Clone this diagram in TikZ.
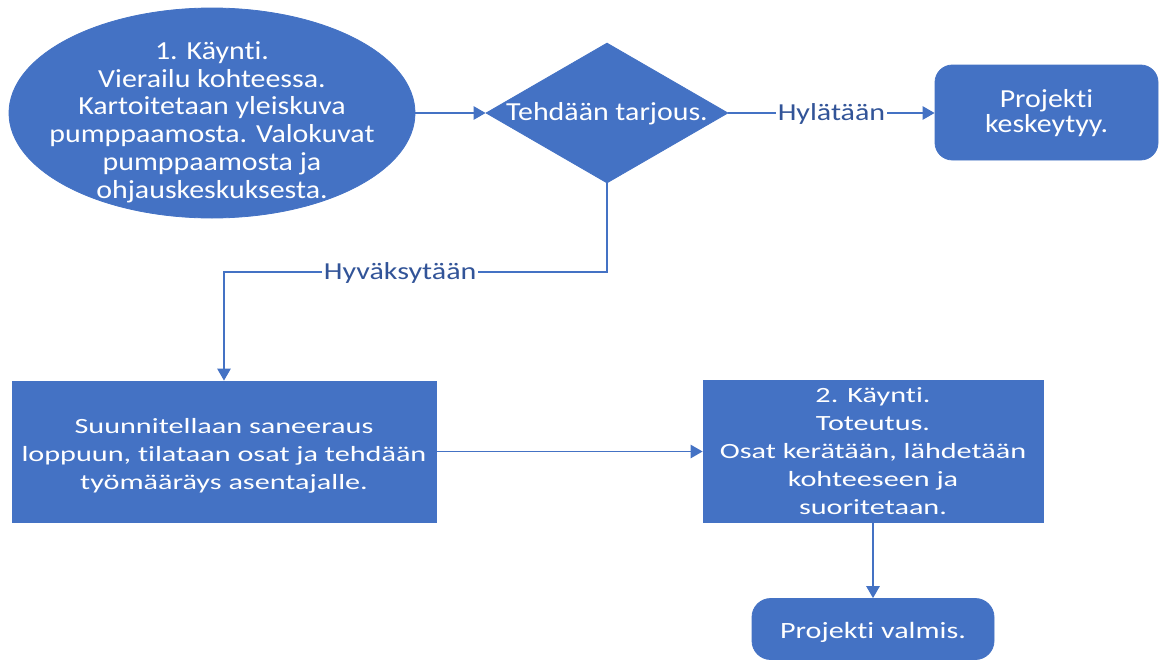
\documentclass[tikz,border=0pt]{standalone}
\usepackage{fontspec}
\setmainfont{Carlito}[Ligatures=NoCommon]
\newfontfamily\topfont{Carlito}[FakeStretch=1.15,Ligatures=NoCommon]
\newfontfamily\botfont{Carlito}[FakeStretch=1.39,Ligatures=NoCommon]
\newfontfamily\valfont{Carlito}[FakeStretch=1.29,Ligatures=NoCommon]
\newfontfamily\lblfont{Carlito}[FakeStretch=1.23,Ligatures=NoCommon]
\usetikzlibrary{shapes.geometric,arrows.meta}
\definecolor{myblue}{HTML}{4472C4}
\definecolor{lblblue}{RGB}{50,84,152}
\newcommand{\tI}{t\kern0pt i}
\tikzset{
  shp/.style={fill=myblue, draw=myblue, line width=0.6pt, inner sep=0pt},
  toptext/.style={text=white, inner sep=0pt, align=center, font=\topfont\fontsize{19.5}{20.8}\selectfont},
  bottext/.style={text=white, inner sep=0pt, align=center, font=\botfont\fontsize{16.3}{21}\selectfont},
  valtext/.style={text=white, inner sep=0pt, align=center, font=\valfont\fontsize{17.5}{21}\selectfont},
  conn/.style={draw=myblue, line width=1.3pt, -{Triangle[length=9pt,width=10pt]}},
  lbl/.style={fill=white, text=lblblue, inner sep=1.2pt, font=\lblfont\fontsize{18.3}{21}\selectfont}
}
\begin{document}
\begin{tikzpicture}[x=0.75pt,y=-0.75pt]
\useasboundingbox (0,0) rectangle (1162,661);
% shapes
\node[shp, ellipse, minimum width=304.5pt, minimum height=157.5pt] (ell) at (212,113) {};
\node[shp, diamond, minimum width=181.5pt, minimum height=105pt] (dia) at (607,113) {};
\node[shp, rectangle, rounded corners=13pt, minimum width=167.25pt, minimum height=71.25pt] (kesk) at (1046.5,112.5) {};
\node[shp, rectangle, minimum width=318pt, minimum height=105.75pt] (box1) at (224,451.5) {};
\node[shp, rectangle, minimum width=255pt, minimum height=106.5pt] (box2) at (873,451) {};
\node[shp, rectangle, rounded corners=14pt, minimum width=181.5pt, minimum height=45.75pt] (valmis) at (873,629) {};
% texts
\node[toptext] (ellt) at (212,122) {1. Käyn\tI.\\Vierailu kohteessa.\\Kartoitetaan yleiskuva\\pumppaamosta. Valokuvat\\pumppaamosta ja\\ohjauskeskuksesta.};
\node[toptext] (diat) at (607,114) {Tehdään tarjous.};
\node[toptext, font=\topfont\fontsize{19.5}{19.3}\selectfont] (keskt) at (1046.5,113) {Projek\tI\\keskeytyy.};
\node[bottext] (box1t) at (224,456) {Suunnitellaan saneeraus\\loppuun, tilataan osat ja tehdään\\työmääräys asentajalle.};
\node[bottext] (box2t) at (873,451.5) {2. Käyn\tI.\\Toteutus.\\Osat kerätään, lähdetään\\kohteeseen ja\\suoritetaan.};
\node[valtext] (valmist) at (873,632) {Projek\tI{} valmis.};
% connectors
\coordinate (bendA) at (607,272);
\coordinate (bendB) at (224,272);
\draw[conn] (ell.east) -- (dia.west);
\draw[conn] (dia.east) -- node[lbl, yshift=-1pt]{Hylätään} (dia.east -| kesk.west);
\draw[conn] (dia.south) -- (bendA) -- node[lbl, pos=0.54, yshift=-0.5pt]{Hyväksytään} (bendB) -- (box1.north);
\draw[conn] (box1.east) -- (box1.east -| box2.west);
\draw[conn] (box2.south) -- (valmis.north);
\end{tikzpicture}
\end{document}
